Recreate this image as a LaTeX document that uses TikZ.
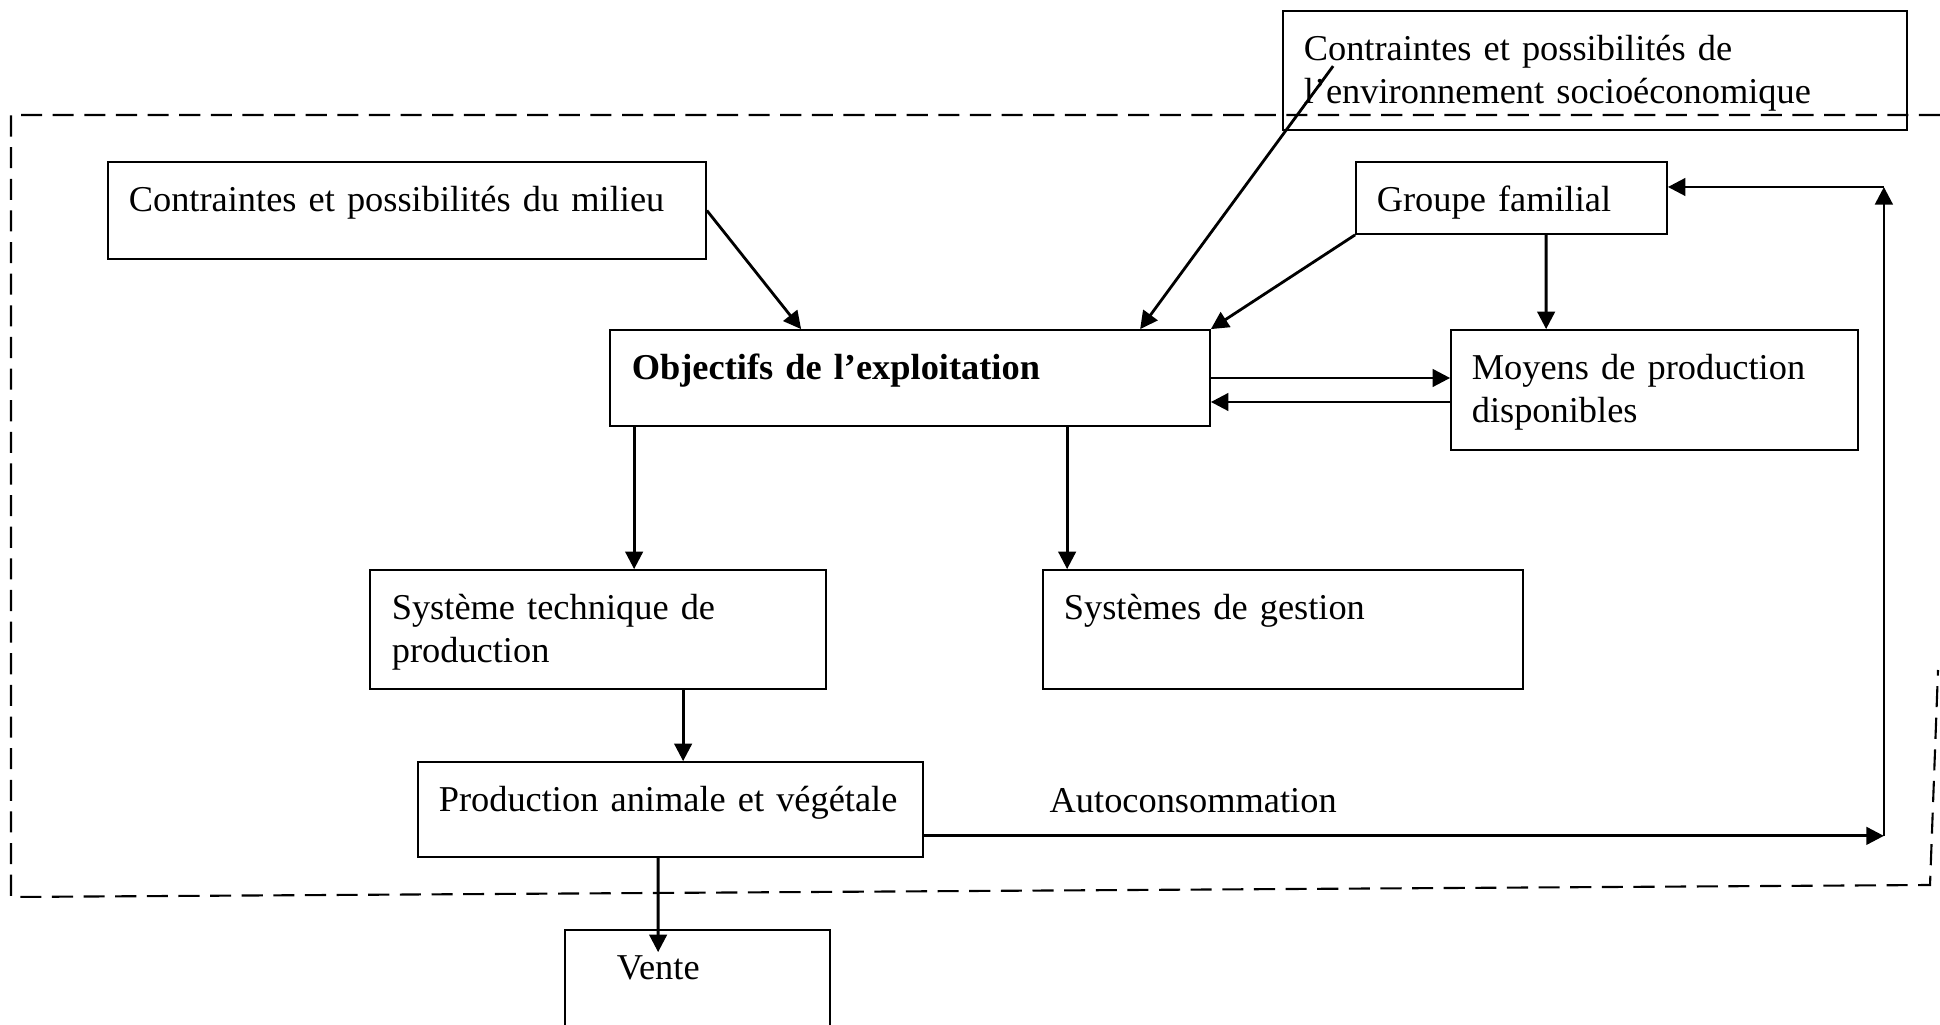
\documentclass[tikz,border=0pt]{standalone}
\usepackage{fontspec}
\setmainfont{Liberation Serif}
\usetikzlibrary{arrows.meta}

\begin{document}
\begin{tikzpicture}[
    boite/.style={
        draw,
        line width=0.5pt,
        inner sep=0pt
    },
    texte/.style={
        anchor=north west,
        inner sep=0pt,
        text height=2.5mm,
        text width=7cm,
        align=left,
        font=\fontsize{10.35}{12.2}\selectfont
    },
    fleche/.style={
        line width=0.8pt,
        -{Triangle[length=5pt,width=5pt]}
    }
]
\useasboundingbox (0,0) rectangle (19.40,10.25);

% cadre de l'exploitation
\draw[line width=0.6pt, dash pattern=on 6pt off 3pt]
    (19.40,9.10) -- (0.11,9.10) -- (0.11,1.28) -- (19.30,1.40) -- (19.38,3.55);

% boites : nom/x/y/largeur/hauteur/retrait/texte
\foreach \nom/\cx/\cy/\lx/\ly/\dx/\texte in {
    env/15.95/9.545/6.24/1.19/2.1/{Contraintes et possibilités de\\l’environnement socioéconomique},
    milieu/4.07/8.145/5.98/0.97/2.1/{Contraintes et possibilités du milieu},
    groupe/15.115/8.27/3.11/0.72/2.1/{Groupe familial},
    objectifs/9.10/6.47/6.00/0.96/2.2/{\bfseries Objectifs de l’exploitation},
    moyens/16.545/6.35/4.07/1.20/2.1/{Moyens de production\\disponibles},
    tech/5.98/3.955/4.56/1.19/2.2/{Système technique de\\production},
    gestion/12.83/3.955/4.80/1.19/2.1/{Systèmes de gestion},
    production/6.705/2.155/5.05/0.95/2.1/{Production animale et végétale},
    vente/6.975/0.40/2.65/1.10/5.2/{Vente}
}{
    \node[boite, minimum width=\lx cm, minimum height=\ly cm] (\nom) at (\cx,\cy) {};
    \node[texte] (\nom-t) at ([xshift=\dx mm, yshift=-2.5mm]\nom.north west) {\texte};
}

\draw[fleche] (milieu.east) -- ([xshift=19.2mm]objectifs.north west);
\draw[fleche] ([xshift=5.1mm,yshift=-5.6mm]env.north west) -- ([xshift=53.1mm]objectifs.north west);
\draw[fleche] (groupe.south west) -- (objectifs.north east);
\draw[fleche] ([xshift=19.1mm]groupe.south west) -- ([xshift=9.6mm]moyens.north west);

\draw[fleche] (objectifs.east) -- (objectifs.east -| moyens.west);
\draw[fleche] ([yshift=-2.4mm]objectifs.east -| moyens.west) -- ([yshift=-2.4mm]objectifs.east);

\draw[fleche] ([xshift=2.5mm]objectifs.south west) -- ([xshift=2.5mm]objectifs.south west |- tech.north);
\draw[fleche] ([xshift=2.5mm]gestion.north west |- objectifs.south) -- ([xshift=2.5mm]gestion.north west);
\draw[fleche] ([xshift=26.6mm]production.north west |- tech.south) -- ([xshift=26.6mm]production.north west);
\draw[fleche] ([xshift=24.1mm]production.south west) -- ([xshift=9.4mm,yshift=-2.3mm]vente.north west);

% autoconsommation
\path ([yshift=2.2mm]production.south east) ++(9.60,0) coordinate (coinbas);
\path ([yshift=1.1mm]groupe.east -| coinbas) coordinate (coinhaut);
\draw[fleche] ([yshift=2.2mm]production.south east) -- (coinbas);
\draw[fleche] (coinbas) -- (coinhaut);
\draw[fleche] (coinhaut) -- ([yshift=1.1mm]groupe.east);
\node[texte, anchor=base west] (auto) at (10.49,2.12) {Autoconsommation};
\end{tikzpicture}
\end{document}
